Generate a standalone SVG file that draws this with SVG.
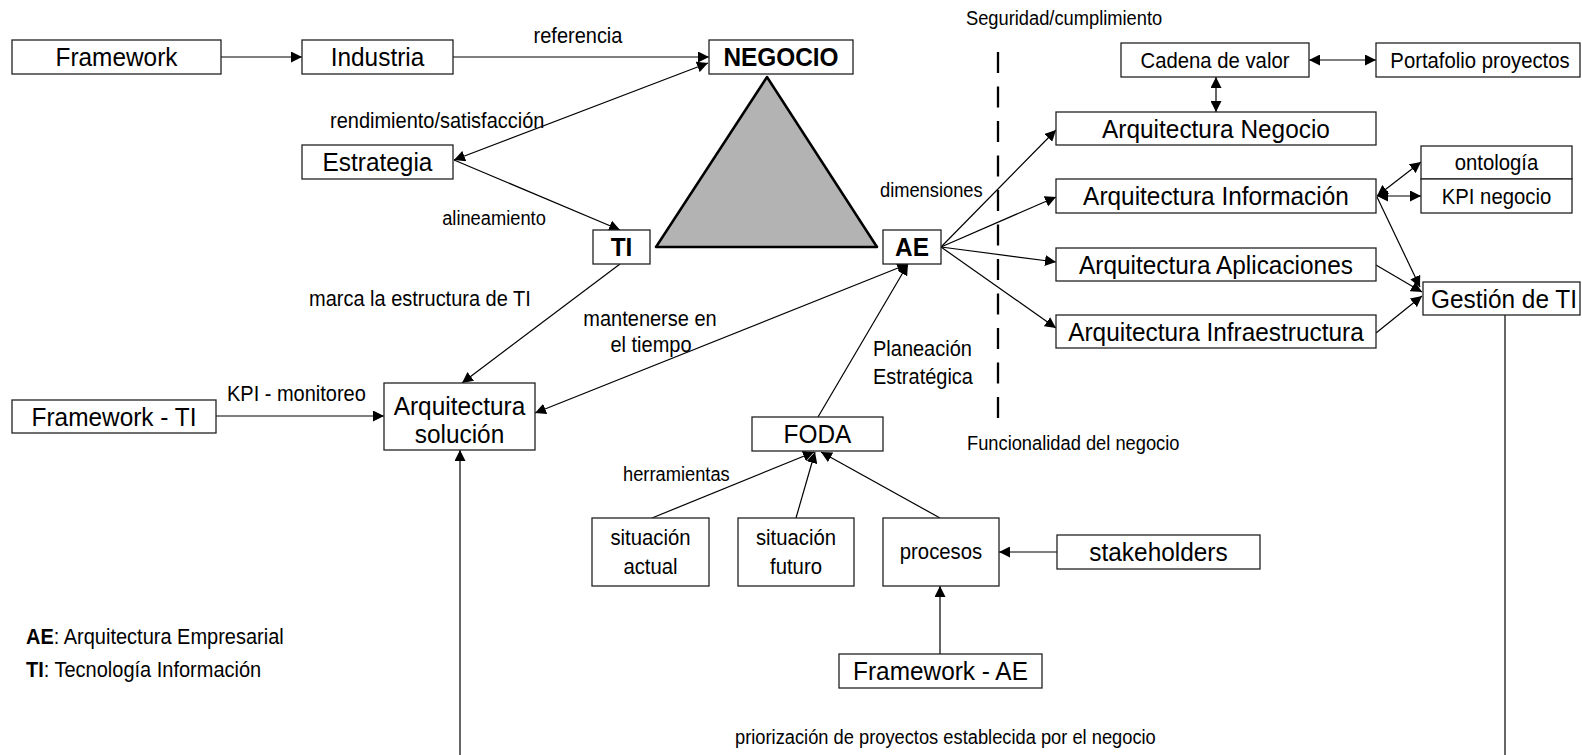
<svg xmlns="http://www.w3.org/2000/svg" width="1582" height="755" viewBox="0 0 1582 755">
  <style>
    text { font-family: "Liberation Sans", Arial, sans-serif; fill: #000; transform-box: fill-box; transform-origin: 50% 50%; transform: scaleY(1.09); }
    .box { fill: #fff; stroke: #222; stroke-width: 1.3; }
    .big { font-size: 24.4px; text-anchor: middle; }
    .bold { font-weight: bold; }
    .mid { font-size: 20.3px; text-anchor: middle; }
    .lbl { font-size: 20px; }
    .sm { font-size: 18.3px; }
    .c { text-anchor: middle; }
    .ln { fill: none; stroke: #000; stroke-width: 1.2; }
    .a1 { marker-end: url(#ah); }
    .a2 { marker-start: url(#ah); marker-end: url(#ah); }
  </style>
  <defs>
    <marker id="ah" markerUnits="userSpaceOnUse" markerWidth="11" markerHeight="11" refX="10" refY="5" orient="auto-start-reverse" viewBox="0 0 10 10">
      <path d="M0,0 L10,5 L0,10 z" fill="#000"/>
    </marker>
  </defs>

  <rect width="1582" height="755" fill="#fff"/>

  <!-- central triangle -->
  <polygon id="triangle" points="767,77 656,247 877,247" fill="#b3b3b3" stroke="#000" stroke-width="2.5" stroke-linejoin="round"/>

  <!-- boundary between security and business functionality -->
  <line id="divider" x1="998" y1="52" x2="998" y2="418" stroke="#000" stroke-width="2.3" stroke-dasharray="21 13.5"/>

  <g id="connectors">
    <line class="ln a1" x1="221" y1="57" x2="302" y2="57"/>
    <line class="ln a1" x1="453" y1="57" x2="709" y2="57"/>
    <line class="ln a2" x1="708" y1="63" x2="454" y2="160"/>
    <line class="ln a1" x1="454" y1="160" x2="620" y2="230"/>
    <line class="ln a1" x1="620" y1="264" x2="462" y2="383"/>
    <line class="ln a2" x1="535" y1="413" x2="908" y2="264"/>
    <line class="ln a1" x1="818" y1="417" x2="908" y2="264"/>
    <line class="ln a1" x1="216" y1="416" x2="384" y2="416"/>
    <line class="ln a1" x1="460" y1="755" x2="460" y2="450"/>
    <line class="ln a1" x1="941" y1="247" x2="1056" y2="130"/>
    <line class="ln a1" x1="941" y1="247" x2="1056" y2="197"/>
    <line class="ln a1" x1="941" y1="247" x2="1056" y2="262"/>
    <line class="ln a1" x1="941" y1="247" x2="1056" y2="328"/>
    <line class="ln a2" x1="1309" y1="60" x2="1376" y2="60"/>
    <line class="ln a2" x1="1216" y1="77" x2="1216" y2="112"/>
    <line class="ln a2" x1="1377" y1="196" x2="1421" y2="162"/>
    <line class="ln a2" x1="1377" y1="196" x2="1421" y2="196"/>
    <line class="ln a1" x1="1377" y1="197" x2="1420" y2="287"/>
    <line class="ln a1" x1="1376" y1="265" x2="1422" y2="292"/>
    <line class="ln a1" x1="1376" y1="333" x2="1422" y2="296"/>
    <line class="ln" x1="1505" y1="315" x2="1505" y2="755"/>
    <line class="ln a1" x1="652" y1="518" x2="814" y2="452"/>
    <line class="ln a1" x1="796" y1="518" x2="815" y2="452"/>
    <line class="ln a1" x1="940" y1="518" x2="821" y2="452"/>
    <line class="ln a1" x1="1057" y1="552" x2="999" y2="552"/>
    <line class="ln a1" x1="940" y1="654" x2="940" y2="586" stroke="#6e6e6e"/>
  </g>

  <g id="labels">
    <text class="lbl c" x="578" y="42">referencia</text>
    <text class="lbl" x="330" y="127">rendimiento/satisfacción</text>
    <text class="sm c" x="494" y="224">alineamiento</text>
    <text class="lbl" x="309" y="305">marca la estructura de TI</text>
    <text class="lbl c" x="650" y="325">mantenerse en</text>
    <text class="lbl c" x="651" y="351">el tiempo</text>
    <text class="lbl" x="873" y="355">Planeación</text>
    <text class="lbl" x="873" y="383">Estratégica</text>
    <text class="lbl" x="227" y="400">KPI - monitoreo</text>
    <text class="sm" x="880" y="196">dimensiones</text>
    <text class="sm" x="623" y="480">herramientas</text>
    <text class="sm" x="966" y="24">Seguridad/cumplimiento</text>
    <text class="sm" x="967" y="449">Funcionalidad del negocio</text>
    <text class="sm" x="735" y="743">priorización de proyectos establecida por el negocio</text>
  </g>

  <g id="legend">
    <text class="lbl" x="26" y="643"><tspan class="bold" font-weight="bold">AE</tspan>: Arquitectura Empresarial</text>
    <text class="lbl" x="26" y="676"><tspan font-weight="bold">TI</tspan>: Tecnología Información</text>
  </g>

  <g id="framework"><rect class="box" x="12" y="40" width="209" height="34"/><text class="big" x="116.5" y="65.5">Framework</text></g>
  <g id="industria"><rect class="box" x="302" y="40" width="151" height="34"/><text class="big" x="377.5" y="65.5">Industria</text></g>
  <g id="negocio"><rect class="box" x="709" y="40" width="144" height="34"/><text class="big bold" x="781" y="65.5">NEGOCIO</text></g>
  <g id="estrategia"><rect class="box" x="302" y="145" width="151" height="34"/><text class="big" x="377.5" y="170.5">Estrategia</text></g>
  <g id="ti"><rect class="box" x="593" y="230" width="57" height="34"/><text class="big bold" x="621.5" y="255.5">TI</text></g>
  <g id="ae"><rect class="box" x="883" y="230" width="58" height="34"/><text class="big bold" x="912" y="255.5">AE</text></g>
  <g id="arq-solucion"><rect class="box" x="384" y="383" width="151" height="67"/><text class="big" x="459.5" y="414">Arquitectura</text><text class="big" x="459.5" y="442">solución</text></g>
  <g id="framework-ti"><rect class="box" x="12" y="400" width="204" height="33"/><text class="big" x="114" y="425">Framework - TI</text></g>
  <g id="foda"><rect class="box" x="752" y="417" width="131" height="34"/><text class="big" x="817.5" y="442.5">FODA</text></g>
  <g id="situacion-actual"><rect class="box" x="592" y="518" width="117" height="68"/><text class="mid" x="650.5" y="544">situación</text><text class="mid" x="650.5" y="573">actual</text></g>
  <g id="situacion-futuro"><rect class="box" x="738" y="518" width="116" height="68"/><text class="mid" x="796" y="544">situación</text><text class="mid" x="796" y="573">futuro</text></g>
  <g id="procesos"><rect class="box" x="883" y="518" width="116" height="68"/><text class="mid" x="941" y="558">procesos</text></g>
  <g id="stakeholders"><rect class="box" x="1057" y="535" width="203" height="34"/><text class="big" x="1158.5" y="560.5">stakeholders</text></g>
  <g id="framework-ae"><rect class="box" x="839" y="654" width="203" height="34"/><text class="big" x="940.5" y="679.5">Framework - AE</text></g>
  <g id="cadena-valor"><rect class="box" x="1121" y="43" width="188" height="34"/><text class="mid" x="1215" y="67">Cadena de valor</text></g>
  <g id="portafolio"><rect class="box" x="1376" y="43" width="204" height="34"/><text class="mid" x="1480" y="67">Portafolio proyectos</text></g>
  <g id="arq-negocio"><rect class="box" x="1056" y="112" width="320" height="33"/><text class="big" x="1216" y="137">Arquitectura Negocio</text></g>
  <g id="arq-informacion"><rect class="box" x="1056" y="179" width="320" height="34"/><text class="big" x="1216" y="204.5">Arquitectura Información</text></g>
  <g id="arq-aplicaciones"><rect class="box" x="1056" y="248" width="320" height="33"/><text class="big" x="1216" y="273">Arquitectura Aplicaciones</text></g>
  <g id="arq-infraestructura"><rect class="box" x="1056" y="315" width="320" height="33"/><text class="big" x="1216" y="340">Arquitectura Infraestructura</text></g>
  <g id="ontologia"><rect class="box" x="1421" y="146" width="151" height="33"/><text class="mid" x="1496.5" y="169.5">ontología</text></g>
  <g id="kpi-negocio"><rect class="box" x="1421" y="179" width="151" height="34"/><text class="mid" x="1496.5" y="203">KPI negocio</text></g>
  <g id="gestion-ti"><rect class="box" x="1423" y="282" width="157" height="33"/><text class="big" x="1504" y="307">Gestión de TI</text></g>
</svg>
